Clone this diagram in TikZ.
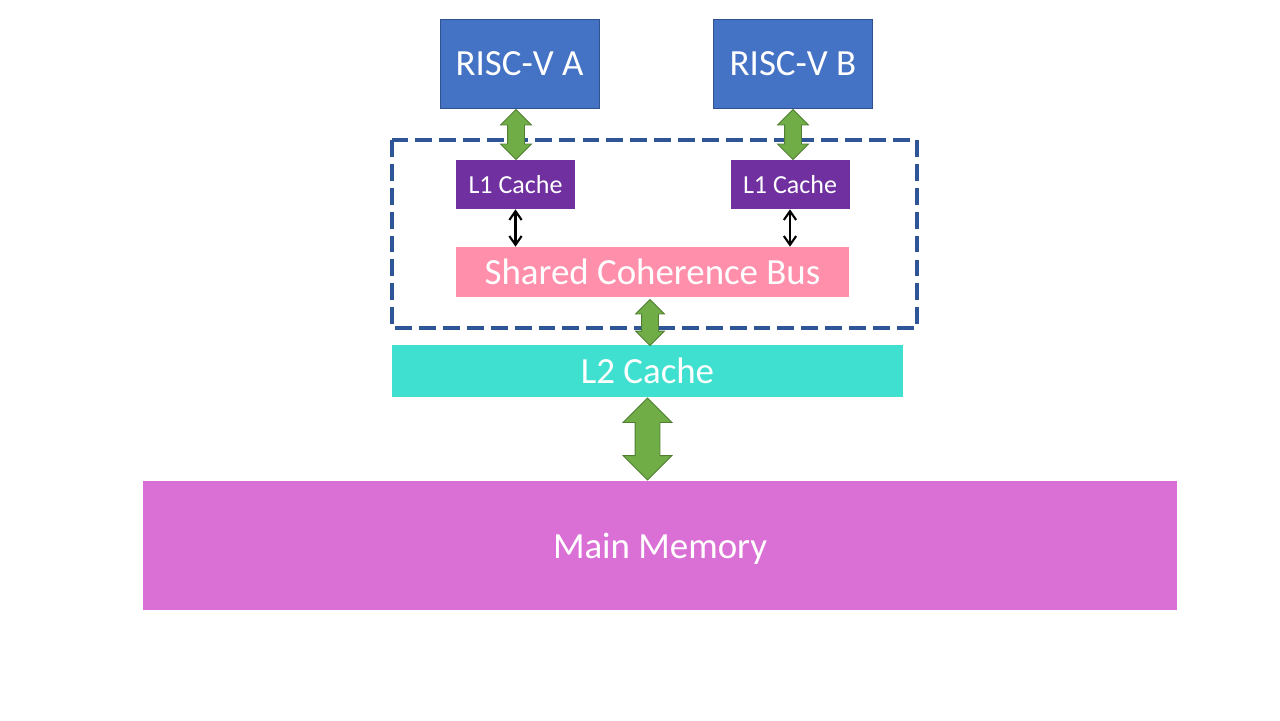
\documentclass[tikz,border=0pt]{standalone}
\usepackage{fontspec}
\setmainfont{Carlito}
\usepackage{xcolor}
\usepackage{tikz}
\usetikzlibrary{positioning,arrows.meta,shapes.arrows,calc}

\definecolor{cpublue}{HTML}{4472C4}
\definecolor{cpuedge}{HTML}{2F528F}
\definecolor{lonepurple}{HTML}{7030A0}
\definecolor{buspink}{HTML}{FF8FAB}
\definecolor{ltwoteal}{HTML}{40E0D0}
\definecolor{memorchid}{HTML}{DA70D6}
\definecolor{linkgreen}{HTML}{70AD47}
\definecolor{linkedge}{HTML}{507E32}
\definecolor{clusterblue}{HTML}{2F5597}

\begin{document}
\begin{tikzpicture}[x=0.02cm,y=-0.02cm,
        cpu/.style={rectangle,draw=cpuedge,fill=cpublue,text=white,
                    minimum width=3.18cm,minimum height=1.78cm,font=\fontsize{21}{25}\selectfont},
        lone/.style={rectangle,fill=lonepurple,text=white,
                    minimum width=2.38cm,minimum height=0.98cm,font=\fontsize{14.8}{18}\selectfont},
        block/.style={rectangle,text=white,inner sep=0pt,text depth=0pt,font=\fontsize{21}{25}\selectfont},
        link/.style={double arrow,shape border rotate=90,draw=linkedge,fill=linkgreen,
                    line width=0.5pt,double arrow tip angle=90}]
        \useasboundingbox (0,0) rectangle (1280,720);
        % processors and their private caches
        \foreach \k/\x/\xl in {A/519.5/515.5,B/793/790}{
          \node[cpu] (cpu\k) at (\x,64) {RISC-V \k};
          \node[lone] (lone\k) at (\xl,184.5) {L1 Cache};
        }
        \node[block,fill=buspink,minimum width=7.86cm,minimum height=1.0cm] (bus) at (652.5,272) {Shared Coherence Bus};
        \node[block,fill=ltwoteal,minimum width=10.22cm,minimum height=1.04cm] (ltwo) at (647.5,371) {L2 Cache};
        \node[block,fill=memorchid,minimum width=20.68cm,minimum height=2.58cm] (mem) at (660,545.5) {Main Memory};
        % coherence domain
        \draw[clusterblue,line width=2.5pt,dash pattern=on 9.6pt off 4pt] (392,140) rectangle (917,328);
        % green block links
        \foreach \k/\x in {A/516,B/793}{
          \node[link,minimum height=1.0cm,inner sep=0.16cm,double arrow head extend=0.14cm]
            (link\k) at (\x,134.5) {};
          \draw[{Straight Barb[length=5pt,width=7pt]}-{Straight Barb[length=5pt,width=7pt]},line width=1.2pt]
            (lone\k.south) -- (lone\k.south |- bus.north);
        }
        \node[link,minimum height=0.92cm,inner sep=0.16cm,double arrow head extend=0.12cm]
          (linkbus) at (650,322.5) {};
        \node[link,minimum height=1.64cm,inner sep=0.24cm,double arrow head extend=0.24cm]
          (linkmem) at ($(ltwo.south)!0.5!(ltwo.south |- mem.north)$) {};
      \end{tikzpicture}
\end{document}
